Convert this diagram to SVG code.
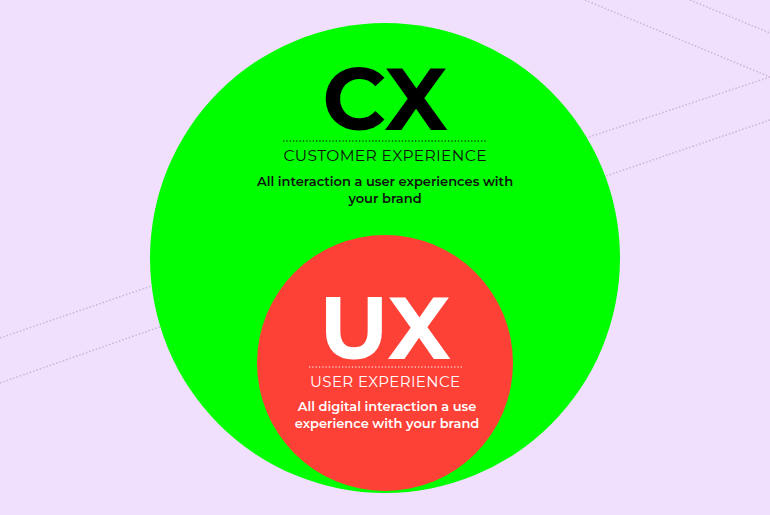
<svg xmlns="http://www.w3.org/2000/svg" width="770" height="515" viewBox="0 0 770 515">
<style>
.dl{stroke:#c9b6d6;stroke-width:1.5;stroke-dasharray:1.5 2;fill:none}
.t{font-family:Montserrat,"Open Sans","Liberation Sans",sans-serif;text-anchor:middle}
.b{font-weight:600}
.dot{stroke-width:1.2;stroke-dasharray:1.3 2}
</style>
<rect width="770" height="515" fill="#f0dffd"/>
<g id="bglines">
<line class="dl" x1="585" y1="0" x2="770" y2="77"/>
<line class="dl" x1="690" y1="0" x2="770" y2="33"/>
<line class="dl" x1="770" y1="77" x2="580" y2="140"/>
<line class="dl" x1="770" y1="120" x2="600" y2="178"/>
<line class="dl" x1="0" y1="338" x2="160" y2="283"/>
<line class="dl" x1="0" y1="383" x2="165" y2="325"/>
</g>
<g id="cx">
<circle cx="385" cy="258" r="235" fill="#00fe00"/>
<text class="t" x="385" y="130" font-size="88" font-weight="bold" fill="#000">CX</text>
<line class="dot" x1="283" y1="141" x2="487" y2="141" stroke="#000"/>
<text class="t" x="385" y="161" font-size="15.5" fill="#111" textLength="203">CUSTOMER EXPERIENCE</text>
<text class="t b" x="385" y="186" font-size="13" fill="#111">All interaction a user experiences with</text>
<text class="t b" x="385" y="203" font-size="13" fill="#111">your brand</text>
</g>
<g id="ux">
<circle cx="385" cy="363" r="128" fill="#fe4136"/>
<text class="t" x="385" y="359" font-size="88" font-weight="bold" fill="#fff">UX</text>
<line class="dot" x1="309" y1="367" x2="462" y2="367" stroke="#fff"/>
<text class="t" x="385" y="387" font-size="15" fill="#fff" textLength="150">USER EXPERIENCE</text>
<text class="t b" x="387" y="411" font-size="13" fill="#fff">All digital interaction a use</text>
<text class="t b" x="387" y="428" font-size="13" fill="#fff">experience with your brand</text>
</g>
<g id="connectors"/>
</svg>
